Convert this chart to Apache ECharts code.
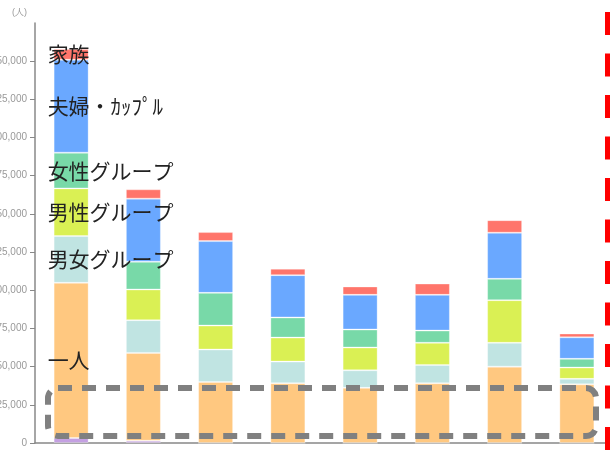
<!DOCTYPE html>
<html>
<head>
<meta charset="utf-8">
<style>
  html, body { margin: 0; padding: 0; background: #fff; overflow: hidden; }
  #chart { width: 610px; height: 450px; }
</style>
<script src="https://cdn.jsdelivr.net/npm/echarts@6/dist/echarts.min.js"></script>
</head>
<body>
<div id="chart"></div>
<script>
// カテゴリ（軸ラベルは画像外）
const categories = ['1', '2', '3', '4', '5', '6', '7', '8'];

// 下から順に積み上げ
const other  = [3300, 1500, 0, 0, 0, 0, 0, 0];
const hitori = [101600, 57500, 40000, 39100, 36100, 39100, 50000, 38400];
const danjo  = [30600, 21400, 21200, 14200, 11500, 12000, 15600, 3600];
const dansei = [31200, 20100, 15700, 15700, 14900, 14500, 27900, 7400];
const josei  = [23400, 18200, 21400, 13200, 11800, 8000, 14000, 5700];
const fufu   = [60800, 41300, 33900, 27700, 22700, 23400, 30200, 14100];
const kazoku = [7000, 6100, 5900, 4200, 5500, 7400, 8200, 2500];

const seriesDefs = [
  { name: 'その他', data: other, color: '#C4A0E2', label: false },
  { name: '一人', data: hitori, color: '#FFC880', label: true },
  { name: '男女グループ', data: danjo, color: '#C0E4E2', label: true },
  { name: '男性グループ', data: dansei, color: '#DAF054', label: true },
  { name: '女性グループ', data: josei, color: '#78D9A8', label: true },
  { name: '夫婦・ｶｯﾌﾟﾙ', data: fufu, color: '#6AA8FF', label: true },
  { name: '家族', data: kazoku, color: '#FF756B', label: true }
];

const chart = echarts.init(document.getElementById('chart'));

const option = {
  animation: false,
  grid: { left: 35, top: 23, width: 578, height: 420, outerBoundsMode: 'none', containLabel: false },
  xAxis: {
    type: 'category',
    data: categories,
    axisLine: { lineStyle: { color: '#888', width: 1.5 } },
    axisTick: { alignWithLabel: true, length: 5, lineStyle: { color: '#888' } },
    axisLabel: { show: false }
  },
  yAxis: {
    type: 'value',
    min: 0,
    max: 275000,
    interval: 25000,
    name: '(人)',
    nameLocation: 'end',
    nameGap: 6,
    nameTextStyle: { color: '#999', fontSize: 9, align: 'right', padding: [0, 8, 0, 0] },
    axisLine: { show: true, lineStyle: { color: '#888', width: 1.5 } },
    axisTick: { show: true, length: 5, lineStyle: { color: '#888' } },
    splitLine: { show: false },
    axisLabel: {
      color: '#999',
      fontSize: 10,
      margin: 8,
      showMaxLabel: false,
      formatter: v => v.toLocaleString('en-US')
    }
  },
  series: seriesDefs.map(s => ({
    name: s.name,
    type: 'bar',
    stack: 'total',
    barWidth: 35,
    itemStyle: { color: s.color, borderColor: 'rgba(255,255,255,0.3)', borderWidth: 1 },
    label: {
      show: false,
      position: [-6, '50%'],
      align: 'left',
      verticalAlign: 'middle',
      fontSize: 21,
      color: '#222',
      fontFamily: 'Noto Sans CJK JP',
      formatter: '{a}'
    },
    data: s.data.map((v, i) => (i === 0 && s.label) ? { value: v, label: { show: true } } : v)
  })),
  graphic: [
    {
      type: 'rect',
      z: 100,
      shape: { x: 48, y: 388, width: 548, height: 48, r: 10 },
      style: { fill: 'none', stroke: '#808080', lineWidth: 6, lineDash: [14, 10] }
    },
    {
      type: 'line',
      z: 100,
      shape: { x1: 608, y1: 12, x2: 608, y2: 460 },
      style: { stroke: '#ff0000', lineWidth: 6, lineDash: [23, 18.5] }
    }
  ]
};

chart.setOption(option);
</script>
</body>
</html>
